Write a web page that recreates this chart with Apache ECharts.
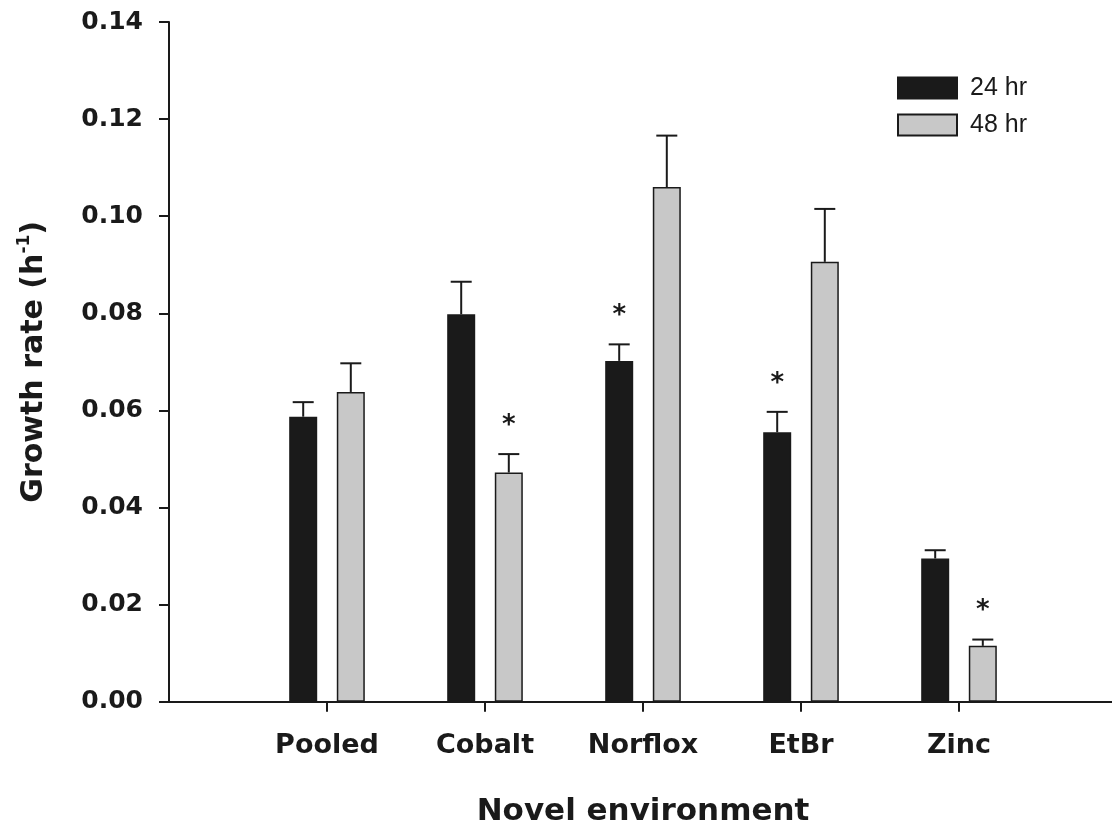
<!DOCTYPE html>
<html>
<head>
<meta charset="utf-8">
<script src="https://cdn.jsdelivr.net/npm/echarts@6/dist/echarts.min.js"></script>
<style>
html,body{margin:0;padding:0;background:#fff;}
#chart{width:1112px;height:825px;}
</style>
</head>
<body>
<div id="chart"></div>
<script>
// ---- data ----
const categories = ['Pooled', 'Cobalt', 'Norflox', 'EtBr', 'Zinc'];
const rate24 = [0.0587, 0.0798, 0.0702, 0.0555, 0.0295];
const err24  = [0.0030, 0.0067, 0.0034, 0.0042, 0.0017];
const rate48 = [0.0638, 0.0472, 0.1060, 0.0906, 0.0115];
const err48  = [0.0059, 0.0038, 0.0106, 0.0109, 0.0013];
const sig24  = [0, 0, 1, 1, 0];
const sig48  = [0, 1, 0, 0, 1];
const seriesNames = ['24 hr', '48 hr'];
const yMin = 0, yMax = 0.14, yStep = 0.02;

// ---- styling ----
const INK = '#1a1a1a';
const GREY = '#c8c8c8';
const BOLD = 'DejaVu Sans';
const BAR_W = 28;
const BAR_GAP = 0.7;
const OFF = (BAR_W + BAR_W * BAR_GAP) / 2;

// padded category axis so the plot spans an extra empty slot on each side
const axisCats = [''].concat(categories, [' ']);
const pad = arr => ['-'].concat(arr, ['-']);
const errData = (rates, errs, sigs) => rates.map((v, i) => [i + 1, v, errs[i], sigs[i]]);

function errRender(offset) {
  return function (params, api) {
    const x = api.value(0), m = api.value(1), e = api.value(2), s = api.value(3);
    const b = api.coord([x, m]);
    const t = api.coord([x, m + e]);
    const cx = b[0] + offset;
    const kids = [
      {type: 'line', shape: {x1: cx, y1: b[1], x2: cx, y2: t[1]}, style: {stroke: INK, lineWidth: 2}},
      {type: 'line', shape: {x1: cx - 10.5, y1: t[1], x2: cx + 10.5, y2: t[1]}, style: {stroke: INK, lineWidth: 2}}
    ];
    if (s) {
      kids.push({type: 'text', x: cx, y: t[1] - 28,
        style: {text: '*', font: 'bold 26px "DejaVu Sans"', fill: INK, align: 'center', verticalAlign: 'middle'}});
    }
    return {type: 'group', children: kids};
  };
}

const chart = echarts.init(document.getElementById('chart'), null, {renderer: 'canvas'});
chart.setOption({
  animation: false,
  backgroundColor: '#fff',
  grid: {left: 169, top: 22, width: 948, bottom: 123.3, containLabel: false, outerBoundsMode: 'none'},
  legend: {
    data: seriesNames,
    orient: 'vertical',
    left: 897, top: 75.5,
    padding: 0,
    itemWidth: 59, itemHeight: 21, itemGap: 12,
    icon: 'rect',
    selectedMode: false,
    textStyle: {fontFamily: 'Liberation Sans', fontSize: 25, color: INK, lineHeight: 21, padding: [0, 0, 0, 8]}
  },
  xAxis: {
    type: 'category',
    data: axisCats,
    boundaryGap: false,
    axisLine: {lineStyle: {color: INK, width: 2}},
    axisTick: {show: true, length: 10, lineStyle: {color: INK, width: 2},
      interval: (i, v) => categories.indexOf(v) >= 0},
    axisLabel: {interval: 0, margin: 31, fontFamily: BOLD, fontWeight: 'bold', fontSize: 27, color: INK},
    splitLine: {show: false},
    name: 'Novel environment',
    nameLocation: 'middle',
    nameGap: 95,
    nameTextStyle: {fontFamily: BOLD, fontWeight: 'bold', fontSize: 31, color: INK}
  },
  yAxis: {
    type: 'value',
    min: yMin, max: yMax, interval: yStep,
    axisLine: {show: true, lineStyle: {color: INK, width: 2}},
    axisTick: {show: true, length: 10, lineStyle: {color: INK, width: 2}},
    axisLabel: {margin: 26, fontFamily: BOLD, fontWeight: 'bold', fontSize: 25, color: INK,
      formatter: v => v.toFixed(2)},
    splitLine: {show: false},
    name: '{a|Growth rate (h}{s|-1}{a|)}',
    nameLocation: 'middle',
    nameRotate: 90,
    nameGap: 117,
    nameTextStyle: {
      rich: {
        a: {fontFamily: BOLD, fontWeight: 'bold', fontSize: 30, color: INK, lineHeight: 36},
        s: {fontFamily: BOLD, fontWeight: 'bold', fontSize: 17, color: INK, verticalAlign: 'top', lineHeight: 36, padding: [0, 0, 14, 0]}
      }
    }
  },
  series: [
    {name: seriesNames[0], type: 'bar', data: pad(rate24), barWidth: BAR_W, barGap: (BAR_GAP * 100) + '%',
     itemStyle: {color: INK, borderColor: INK, borderWidth: 1.5}},
    {name: seriesNames[1], type: 'bar', data: pad(rate48), barWidth: BAR_W, barGap: (BAR_GAP * 100) + '%',
     itemStyle: {color: GREY, borderColor: INK, borderWidth: 1.5}},
    {type: 'custom', renderItem: errRender(-OFF), data: errData(rate24, err24, sig24), z: 5, silent: true},
    {type: 'custom', renderItem: errRender(OFF), data: errData(rate48, err48, sig48), z: 5, silent: true}
  ]
});
</script>
</body>
</html>
